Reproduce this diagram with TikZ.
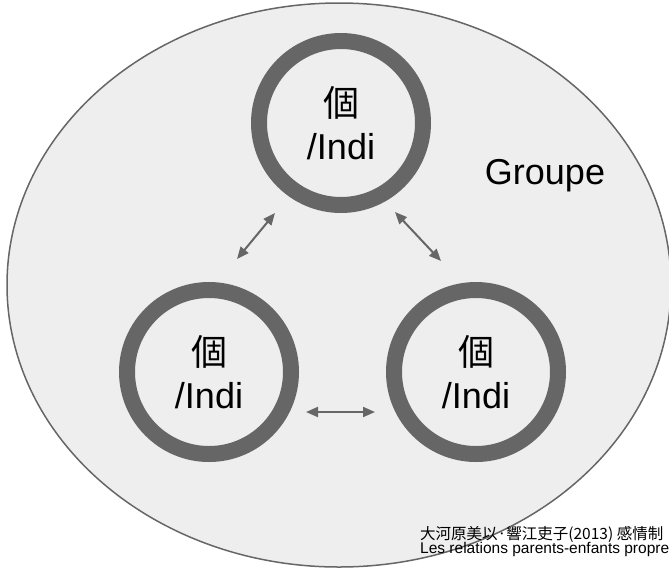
\documentclass[tikz,border=0pt]{standalone}
\usepackage{fontspec}
\setmainfont{Liberation Sans}
\newfontfamily\cjk{Noto Sans CJK JP}
\usetikzlibrary{arrows.meta,shapes.geometric}
\definecolor{ringgray}{HTML}{666666}
\definecolor{fillgray}{HTML}{EEEEEE}

\begin{document}
\begin{tikzpicture}[x=1pt,y=-1pt,
  groupbox/.style={ellipse, draw=ringgray, fill=fillgray, line width=1.5pt,
    minimum width=664pt, minimum height=564pt, inner sep=0pt},
  ring/.style={circle, draw=ringgray, line width=16pt, minimum size=164pt,
    inner sep=0pt, align=center, font=\fontsize{36}{43}\selectfont},
  biglabel/.style={font=\fontsize{36}{43}\selectfont, inner sep=0pt},
  note/.style={anchor=base west, inner sep=0pt, font=\fontsize{15.5}{18}\selectfont},
  link/.style={draw=ringgray, line width=2pt, {Triangle[length=12pt,width=10pt]}-{Triangle[length=12pt,width=10pt]}}]
\useasboundingbox (0,0) rectangle (669,571);

% the group
\node[groupbox] (groupe) at (339,285) {};
\node[biglabel] (glabel) at (545,176) {Groupe};

% the three individuals
\node[ring] (top)   at (341,123) {{\cjk 個}\\/Indi};
\node[ring] (left)  at (209,372) {{\cjk 個}\\/Indi};
\node[ring] (right) at (476,372) {{\cjk 個}\\/Indi};

% ends of the relation arrows
\coordinate (tl1) at (275,213);
\coordinate (tl2) at (237,259);
\coordinate (tr1) at (395,212);
\coordinate (tr2) at (441,261);
\coordinate (lr1) at (306,412);
\coordinate (lr2) at (375,412);

\draw[link] (tl1) -- (tl2);
\draw[link] (tr1) -- (tr2);
\draw[link] (lr1) -- (lr2);

% source
\node[note] (src1) at (420,539) {\cjk 大河原美以·響江吏子(2013) 感情制};
\node[note] (src2) at (420,553) {Les relations parents-enfants propre};
\end{tikzpicture}
\end{document}
